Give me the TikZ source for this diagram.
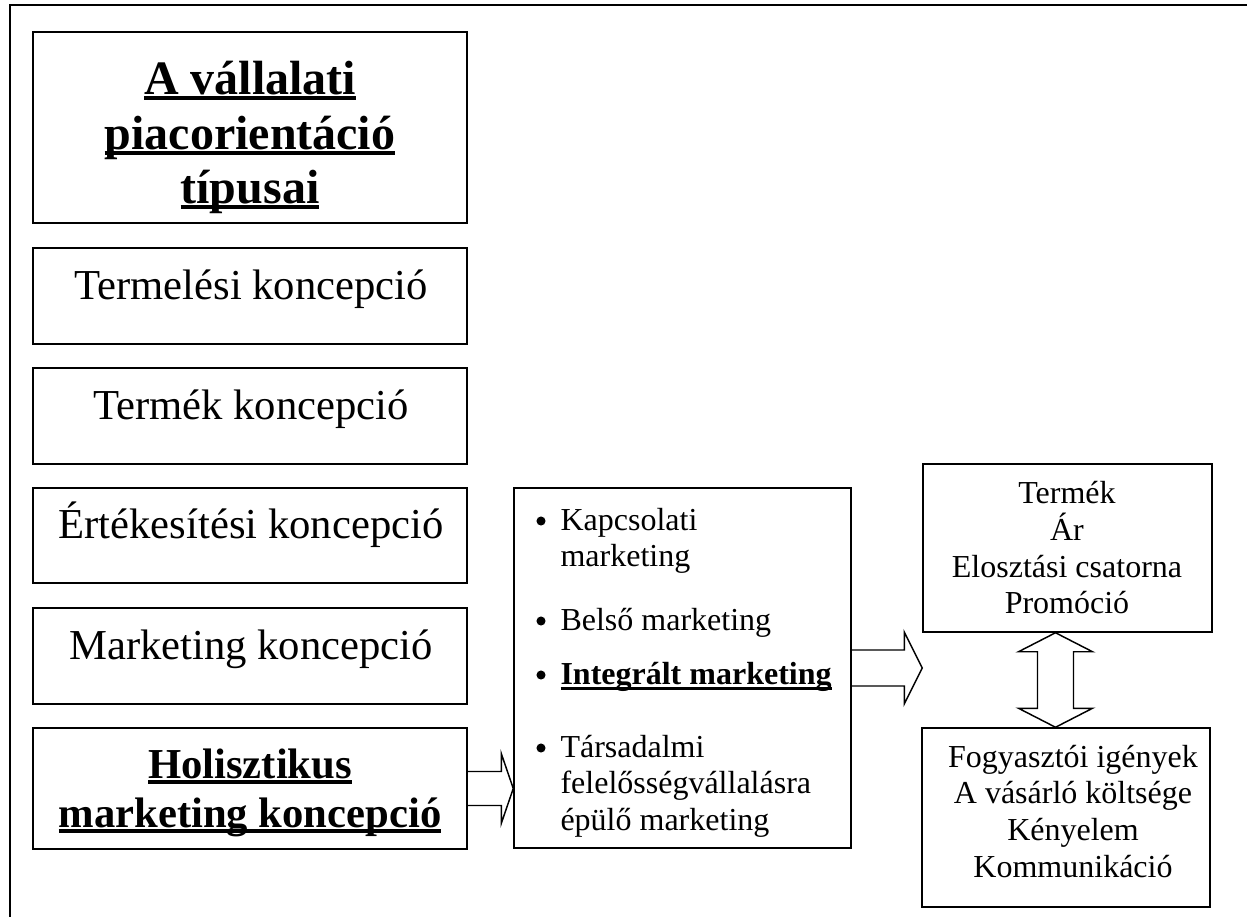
\documentclass[tikz,border=0pt]{standalone}
\usepackage{fontspec}
\setmainfont{Liberation Serif}
\usetikzlibrary{calc,fit}
\newcommand\ulline[3]{\setbox0\hbox{#1}\rlap{\copy0}\rule[#2]{\wd0}{#3}}
\begin{document}
\begin{tikzpicture}[x=0.375pt,y=-0.375pt,
  box/.style={draw, line width=0.55pt, inner sep=0pt},
  frameline/.style={line width=0.75pt},
  barrow/.style={draw, line width=0.55pt, line join=miter},
  big/.style={font=\fontsize{16}{18.4}\selectfont, anchor=base},
  bigb/.style={font=\fontsize{16}{18.4}\selectfont\bfseries, anchor=base},
  ttl/.style={font=\fontsize{18}{20.7}\selectfont\bfseries, anchor=base},
  small/.style={font=\fontsize{12}{13.8}\selectfont, anchor=base},
  item/.style={font=\fontsize{12}{13.8}\selectfont, anchor=base west, inner sep=0pt},
  bul/.style={circle, fill, inner sep=0pt, minimum size=3.4pt},
]
\useasboundingbox (0,0) rectangle (1247,917);
% outer frame (continues beyond the page)
\coordinate (fr1) at (1247,5);
\coordinate (fr2) at (10,5);
\coordinate (fr3) at (10,917);
\draw[frameline] (fr1) -- (fr2) -- (fr3);

% boxes
\node[box, fit={(33,32)(467,223)}] (title) {};
\node[box, fit={(33,248)(467,344)}] (prod) {};
\node[box, fit={(33,368)(467,464)}] (prodc) {};
\node[box, fit={(33,488)(467,583)}] (sales) {};
\node[box, fit={(33,608)(467,704)}] (mkt) {};
\node[box, fit={(33,728)(467,849)}] (hol) {};
\node[box, fit={(514,488)(851,848)}] (mid) {};
\node[box, fit={(923,464)(1212,632)}] (fourp) {};
\node[box, fit={(922,728)(1210,907)}] (fourc) {};

% title
\node[ttl] (t1) at (250,94) {\ulline{A vállalati}{-2.3pt}{1.4pt}};
\node[ttl] (t2) at (250,149) {\ulline{piacorientáció}{-2.3pt}{1.4pt}};
\node[ttl] (t3) at (250,203) {\ulline{típusai}{-2.3pt}{1.4pt}};

% left boxes
\node[big] (l1) at (251,299) {Termelési koncepció};
\node[big] (l2) at (251,419) {Termék koncepció};
\node[big] (l3) at (251,538) {Értékesítési koncepció};
\node[big] (l4) at (251,659) {Marketing koncepció};
\node[bigb] (l5a) at (250,778) {\ulline{Holisztikus}{-2.3pt}{1.4pt}};
\node[bigb] (l5b) at (250,827) {\ulline{marketing koncepció}{-2.3pt}{1.4pt}};

% middle box
\node[bul] (b1) at (541,521) {};
\node[item] (m1) at (560,530) {Kapcsolati};
\node[item] (m2) at (560,566) {marketing};
\node[bul] (b2) at (541,621) {};
\node[item] (m3) at (560,630) {Belső marketing};
\node[bul] (b3) at (541,675) {};
\node[item, font=\fontsize{12}{13.8}\selectfont\bfseries] (m4) at (560,684) {\ulline{Integrált marketing}{-2.4pt}{1.1pt}};
\node[bul] (b4) at (541,748) {};
\node[item] (m5) at (560,757) {Társadalmi};
\node[item] (m6) at (560,793) {felelősségvállalásra};
\node[item] (m7) at (560,830) {épülő marketing};

% right top box
\node[small] (p1) at (1067,503) {Termék};
\node[small] (p2) at (1067,540) {Ár};
\node[small] (p3) at (1067,577) {Elosztási csatorna};
\node[small] (p4) at (1067,613) {Promóció};

% right bottom box
\node[small] (c1) at (1073,767) {Fogyasztói igények};
\node[small] (c2) at (1073,803) {A vásárló költsége};
\node[small] (c3) at (1073,840) {Kényelem};
\node[small] (c4) at (1073,877) {Kommunikáció};

% block arrow: holistic -> middle
\coordinate (a1t) at (mid.west |- hol.east);
\draw[barrow] ($(hol.east)+(0,-17)$) -- ($(a1t)+(-12,-17)$) -- ($(a1t)+(-12,-35)$)
  -- (a1t) -- ($(a1t)+(-12,35)$) -- ($(a1t)+(-12,17)$) -- ($(hol.east)+(0,17)$);

% block arrow: middle -> 4P
\coordinate (a2t) at (fourp.west |- mid.east);
\draw[barrow] ($(mid.east)+(0,-18)$) -- ($(a2t)+(-18,-18)$) -- ($(a2t)+(-18,-36)$)
  -- (a2t) -- ($(a2t)+(-18,36)$) -- ($(a2t)+(-18,18)$) -- ($(mid.east)+(0,18)$);

% double block arrow: 4P <-> 4C
\coordinate (dt) at ($(fourp.south)+(-12,0)$);
\coordinate (db) at (dt |- fourc.north);
\draw[barrow] (dt) -- ($(dt)+(37,19)$) -- ($(dt)+(18,19)$) -- ($(db)+(18,-19)$)
  -- ($(db)+(37,-19)$) -- (db) -- ($(db)+(-37,-19)$) -- ($(db)+(-18,-19)$)
  -- ($(dt)+(-18,19)$) -- ($(dt)+(-37,19)$) -- cycle;
\end{tikzpicture}
\end{document}
